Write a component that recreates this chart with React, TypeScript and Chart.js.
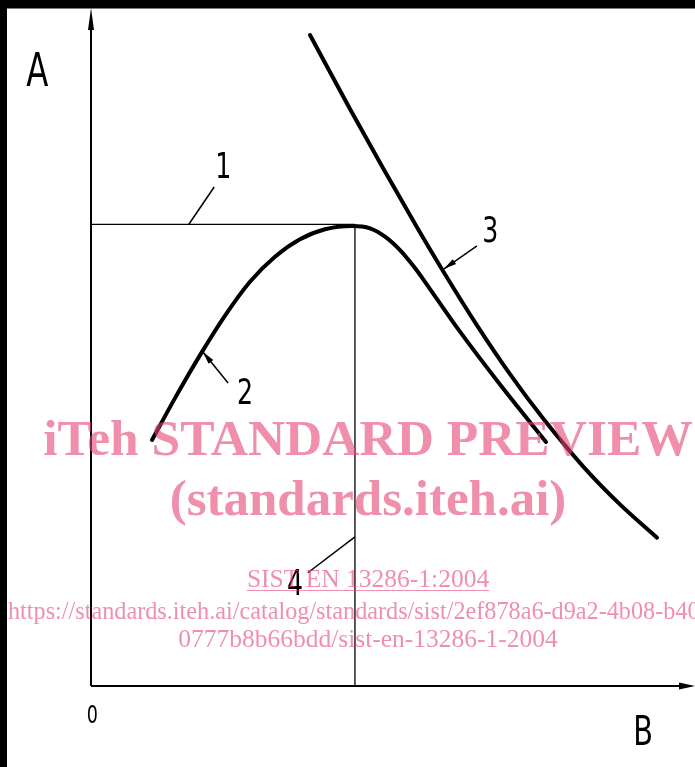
import React, { useEffect, useRef } from "react";
import { Chart, registerables } from "chart.js";

Chart.register(...registerables);

// ---- data (axis units 0..100) ----
const X_MAX = 100;
const Y_MAX = 100;

const refX = 43.7; // vertical reference line 4
const refY = 68.1; // horizontal reference line 1

const curve2X = [10.1, 13.91, 18.05, 22.19, 26.32, 30.46, 34.6, 38.74, 43.21, 46.19, 48.68, 51.16, 53.64, 56.13, 61.09, 67.72, 75.33];
const curve2Y = [36.28, 42.46, 48.8, 54.63, 59.62, 63.3, 65.88, 67.36, 67.85, 67.51, 66.28, 64.29, 61.64, 58.54, 52.26, 44.47, 35.99];

const curve3X = [36.26, 42.88, 48.34, 53.97, 58.28, 63.91, 69.37, 74.83, 81.46, 87.58, 93.71];
const curve3Y = [96.02, 85.1, 76.4, 67.67, 61.22, 53.2, 46.0, 39.48, 32.4, 26.78, 21.87];

// leader lines [x0, y0, x1, y1]; first point is the end touching the curve
const leader1 = [16.2, 68.1, 20.4, 73.6];
const leader2 = [18.5, 49.3, 22.7, 44.7];
const leader3 = [58.4, 61.5, 63.9, 64.9];
const leader4 = [43.7, 22.0, 35.9, 16.7];
const leaderArrow = [false, true, true, false];

// callout labels (x centre, baseline y)
const calloutText = ["1", "2", "3", "4"];
const calloutX = [21.9, 25.5, 66.1, 33.8];
const calloutY = [74.9, 41.6, 65.5, 13.4];

// axis labels
const axisText = ["A", "0", "B"];
const axisTextX = [-8.9, 0.2, 91.4];
const axisTextY = [88.5, -5.5, -8.7];
const axisTextSize = [46, 25, 41];

const watermarkLines = [
  "iTeh STANDARD PREVIEW",
  "(standards.iteh.ai)",
  "SIST EN 13286-1:2004",
  "https://standards.iteh.ai/catalog/standards/sist/2ef878a6-d9a2-4b08-b40b-",
  "0777b8b66bdd/sist-en-13286-1-2004",
];

const toPts = (xs: number[], ys: number[]) => xs.map((x, i) => ({ x, y: ys[i] }));

const LABEL_FONT = '"DejaVu Sans Condensed", "Liberation Sans Narrow", "DejaVu Sans", sans-serif';

const drawingPlugin = {
  id: "drawing",
  afterDatasetsDraw(chart: any) {
    const ctx: CanvasRenderingContext2D = chart.ctx;
    const xs = chart.scales.x;
    const ys = chart.scales.y;
    const px = (v: number) => xs.getPixelForValue(v);
    const py = (v: number) => ys.getPixelForValue(v);

    ctx.save();
    ctx.strokeStyle = "#000";
    ctx.fillStyle = "#000";

    // axes
    const ox = px(0), oy = py(0);
    const topY = py(Y_MAX), rightX = px(X_MAX);
    ctx.lineWidth = 2;
    ctx.beginPath();
    ctx.moveTo(ox, oy);
    ctx.lineTo(ox, topY + 16);
    ctx.moveTo(ox, oy);
    ctx.lineTo(rightX - 14, oy);
    ctx.stroke();
    // arrow heads
    ctx.beginPath();
    ctx.moveTo(ox, topY);
    ctx.lineTo(ox - 3, topY + 22);
    ctx.lineTo(ox + 3, topY + 22);
    ctx.closePath();
    ctx.fill();
    ctx.beginPath();
    ctx.moveTo(rightX, oy);
    ctx.lineTo(rightX - 16, oy - 3.5);
    ctx.lineTo(rightX - 16, oy + 3.5);
    ctx.closePath();
    ctx.fill();

    // leader lines
    const leaders = [leader1, leader2, leader3, leader4];
    ctx.lineWidth = 1.5;
    leaders.forEach((l, i) => {
      const x0 = px(l[0]), y0 = py(l[1]), x1 = px(l[2]), y1 = py(l[3]);
      ctx.beginPath();
      ctx.moveTo(x0, y0);
      ctx.lineTo(x1, y1);
      ctx.stroke();
      if (leaderArrow[i]) {
        const ang = Math.atan2(y0 - y1, x0 - x1);
        const len = 13, hw = 3;
        const bx = x0 - Math.cos(ang) * len, by = y0 - Math.sin(ang) * len;
        ctx.beginPath();
        ctx.moveTo(x0, y0);
        ctx.lineTo(bx + Math.sin(ang) * hw, by - Math.cos(ang) * hw);
        ctx.lineTo(bx - Math.sin(ang) * hw, by + Math.cos(ang) * hw);
        ctx.closePath();
        ctx.fill();
      }
    });

    // callout labels
    ctx.textAlign = "center";
    ctx.textBaseline = "alphabetic";
    calloutText.forEach((t, i) => {
      ctx.save();
      ctx.translate(px(calloutX[i]), py(calloutY[i]));
      ctx.scale(0.78, 1);
      ctx.font = `36px ${LABEL_FONT}`;
      ctx.fillText(t, 0, 0);
      ctx.restore();
    });
    axisText.forEach((t, i) => {
      ctx.save();
      ctx.translate(px(axisTextX[i]), py(axisTextY[i]));
      ctx.scale(0.78, 1);
      ctx.font = `${axisTextSize[i]}px ${LABEL_FONT}`;
      ctx.fillText(t, 0, 0);
      ctx.restore();
    });
    ctx.restore();
  },
  afterDraw(chart: any) {
    const ctx: CanvasRenderingContext2D = chart.ctx;
    const W = chart.width, H = chart.height;
    ctx.save();
    // scan border
    ctx.fillStyle = "#000";
    ctx.fillRect(0, 0, W, 8.5);
    ctx.fillRect(0, 0, 7, H);

    // watermark
    ctx.fillStyle = "rgba(228, 68, 115, 0.6)";
    ctx.strokeStyle = "rgba(228, 68, 115, 0.6)";
    const cx = 368;
    ctx.textBaseline = "alphabetic";
    ctx.textAlign = "center";
    ctx.font = 'bold 51.5px "Liberation Serif", "Times New Roman", serif';
    ctx.fillText(watermarkLines[0], cx, 455);
    ctx.font = 'bold 51px "Liberation Serif", "Times New Roman", serif';
    ctx.fillText(watermarkLines[1], cx, 515);
    ctx.font = '25.5px "Liberation Serif", "Times New Roman", serif';
    ctx.fillText(watermarkLines[2], cx, 587);
    const w2 = ctx.measureText(watermarkLines[2]).width;
    ctx.lineWidth = 1.2;
    ctx.beginPath();
    ctx.moveTo(cx - w2 / 2, 590.5);
    ctx.lineTo(cx + w2 / 2, 590.5);
    ctx.stroke();
    ctx.save();
    ctx.translate(8, 619);
    ctx.scale(0.95, 1);
    ctx.textAlign = "left";
    ctx.fillText(watermarkLines[3], 0, 0);
    ctx.restore();
    ctx.textAlign = "center";
    ctx.fillText(watermarkLines[4], cx, 647);
    ctx.restore();
  },
};

export default function App() {
  const ref = useRef<HTMLCanvasElement | null>(null);

  useEffect(() => {
    if (!ref.current) return;
    const thin = { pointRadius: 0, showLine: true, borderColor: "#000", borderWidth: 1.3, fill: false };
    const thick = {
      showLine: true,
      pointRadius: 0,
      borderColor: "#000",
      borderWidth: 4,
      cubicInterpolationMode: "monotone",
      borderCapStyle: "round",
      borderJoinStyle: "round",
    };
    const chart = new Chart(ref.current, {
      type: "scatter",
      data: {
        datasets: [
          { ...thin, label: "1", data: [{ x: 0, y: refY }, { x: refX, y: refY }] },
          { ...thin, label: "4", data: [{ x: refX, y: refY }, { x: refX, y: 0 }] },
          { ...thick, label: "2", data: toPts(curve2X, curve2Y) },
          { ...thick, label: "3", data: toPts(curve3X, curve3Y) },
        ],
      } as any,
      options: {
        animation: false,
        responsive: false,
        layout: { padding: { left: 91, right: 0, top: 8, bottom: 81 } },
        plugins: { legend: { display: false }, tooltip: { enabled: false } },
        scales: {
          x: { type: "linear", min: 0, max: X_MAX, display: false },
          y: { type: "linear", min: 0, max: Y_MAX, display: false },
        },
      } as any,
      plugins: [drawingPlugin],
    });
    return () => chart.destroy();
  }, []);

  return (
    <div style={{ position: "fixed", left: 0, top: 0, width: 695, height: 767, background: "#fff" }}>
      <canvas ref={ref} width={695} height={767} style={{ display: "block" }} />
    </div>
  );
}
